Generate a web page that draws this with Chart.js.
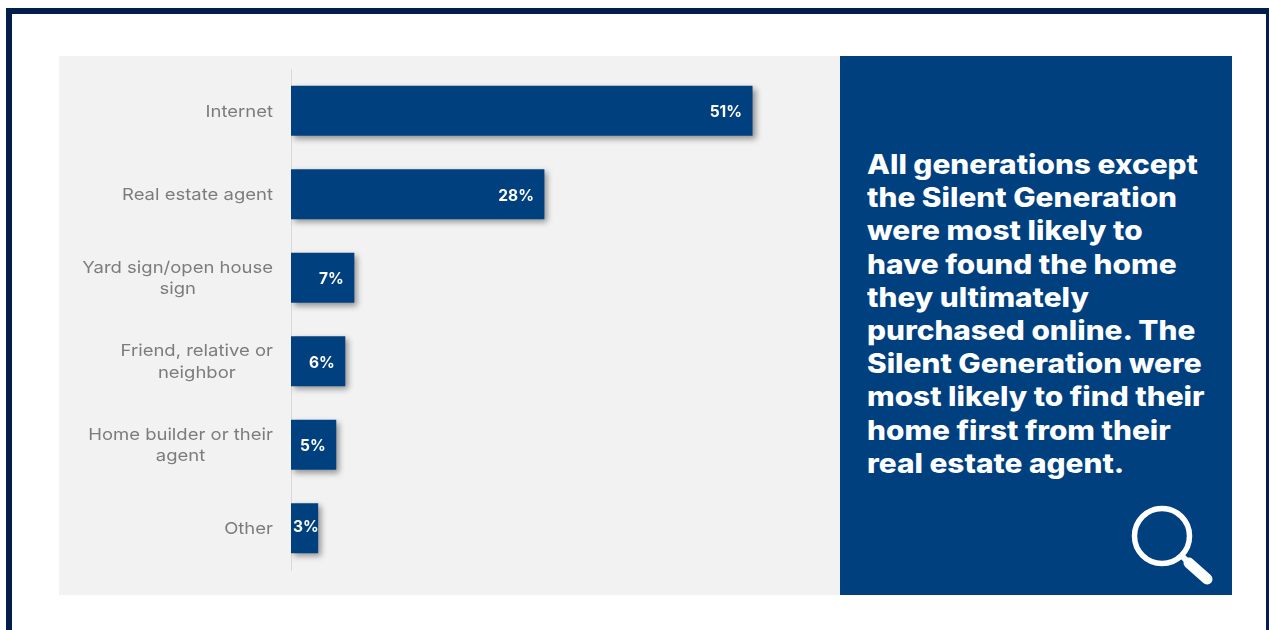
<!DOCTYPE html>
<html>
<head>
<meta charset="utf-8">
<title>How buyers found their home</title>
<script src="https://cdn.jsdelivr.net/npm/chart.js@4"></script>
<style>
    html, body { margin: 0; padding: 0; background: #fff; overflow: hidden; }
    body { position: relative; width: 1269px; height: 630px; }
    .frame { position: absolute; left: 6px; top: 8px; width: 1254px; height: 640px; border: 6px solid #021f4b; }
    .chart-panel { position: absolute; left: 59px; top: 56px; width: 781px; height: 539px; background: #f2f2f2; }
    .note-panel { position: absolute; left: 840px; top: 56px; width: 392px; height: 539px; background: #00407f; }
    /* Inter is narrower than the headline face wanted here, so it gets widened */
    .note-text {
        position: absolute; left: 27px; top: 92px; margin: 0; white-space: nowrap;
        color: #fff; font: 800 26.5px/33.2px Inter, sans-serif;
        transform: scaleX(1.125); transform-origin: left top;
    }
    .note-icon { position: absolute; left: 280px; top: 440px; }
</style>
</head>
<body>
<div class="frame"></div>
<div class="chart-panel"><canvas id="sourceChart" width="781" height="539"></canvas></div>
<div class="note-panel">
    <p class="note-text">All generations except<br>the Silent Generation<br>were most likely to<br>have found the home<br>they ultimately<br>purchased online. The<br>Silent Generation were<br>most likely to find their<br>home first from their<br>real estate agent.</p>
    <svg class="note-icon" width="100" height="100" viewBox="0 0 100 100">
        <circle cx="42" cy="40" r="27.5" fill="none" stroke="#fff" stroke-width="5.5"/>
        <line x1="62" y1="60" x2="70" y2="68" stroke="#fff" stroke-width="6"/>
        <line x1="69" y1="67" x2="87" y2="83" stroke="#fff" stroke-width="11" stroke-linecap="round"/>
    </svg>
</div>

<script>
const categories = [
    ['Internet'],
    ['Real estate agent'],
    ['Yard sign/open house', 'sign'],
    ['Friend, relative or', 'neighbor'],
    ['Home builder or their', 'agent'],
    ['Other']
];
const shares = [51, 28, 7, 6, 5, 3];

const BAR_BLUE = '#00407f';
const LABEL_GREY = '#7c7c7c';
const TEXT_WIDEN = 1.12;

// Soft drop shadow under the bars
const barShadow = {
    id: 'barShadow',
    beforeDatasetDraw(chart) {
        const ctx = chart.ctx;
        ctx.save();
        ctx.shadowColor = 'rgba(0, 0, 0, 0.4)';
        ctx.shadowBlur = 6;
        ctx.shadowOffsetX = 3;
        ctx.shadowOffsetY = 3;
    },
    afterDatasetDraw(chart) {
        chart.ctx.restore();
    }
};

// Category names, right edge on the widest line with the lines centred on each other
const categoryLabels = {
    id: 'categoryLabels',
    afterDraw(chart) {
        const ctx = chart.ctx;
        const yScale = chart.scales.y;
        const rightEdge = yScale.right - 18;
        const lineHeight = 21.5;
        ctx.save();
        ctx.font = '400 16.5px Inter, sans-serif';
        ctx.fillStyle = LABEL_GREY;
        ctx.textAlign = 'center';
        ctx.textBaseline = 'middle';
        categories.forEach((lines, i) => {
            const widest = Math.max(...lines.map(line => ctx.measureText(line).width)) * TEXT_WIDEN;
            const y = yScale.getPixelForTick(i) + 1;
            lines.forEach((line, n) => {
                const offset = (n - (lines.length - 1) / 2) * lineHeight;
                ctx.save();
                ctx.translate(rightEdge - widest / 2, y + offset);
                ctx.scale(TEXT_WIDEN, 1);
                ctx.fillText(line, 0, 0);
                ctx.restore();
            });
        });
        ctx.restore();
    }
};

// Percentages inside the bar ends
const valueLabels = {
    id: 'valueLabels',
    afterDatasetsDraw(chart) {
        const ctx = chart.ctx;
        const bars = chart.getDatasetMeta(0).data;
        ctx.save();
        ctx.font = '700 15.5px Inter, sans-serif';
        ctx.fillStyle = '#fff';
        ctx.textAlign = 'right';
        ctx.textBaseline = 'middle';
        bars.forEach((bar, i) => {
            const text = shares[i] + '%';
            const width = ctx.measureText(text).width;
            const right = Math.max(bar.x - 10.5, bar.base + 2 + width);
            const lift = right > bar.x - 10.5 ? 3 : 0;
            ctx.fillText(text, right, bar.y + 2 - lift);
        });
        ctx.restore();
    }
};

new Chart(document.getElementById('sourceChart').getContext('2d'), {
    type: 'bar',
    data: {
        labels: categories,
        datasets: [{
            data: shares,
            backgroundColor: BAR_BLUE,
            categoryPercentage: 1,
            barPercentage: 0.6
        }]
    },
    plugins: [barShadow, categoryLabels, valueLabels],
    options: {
        indexAxis: 'y',
        responsive: false,
        animation: false,
        layout: { padding: { top: 13, bottom: 25, left: 0, right: 6 } },
        plugins: {
            legend: { display: false },
            tooltip: { enabled: false }
        },
        scales: {
            x: {
                display: false,
                min: 0,
                max: 60
            },
            y: {
                afterFit(scale) { scale.width = 232; },
                grid: { display: true, drawOnChartArea: false, drawTicks: false, color: '#d9d9d9' },
                border: { display: true, color: '#d9d9d9', width: 1 },
                ticks: { display: false }
            }
        }
    }
});
</script>
</body>
</html>
